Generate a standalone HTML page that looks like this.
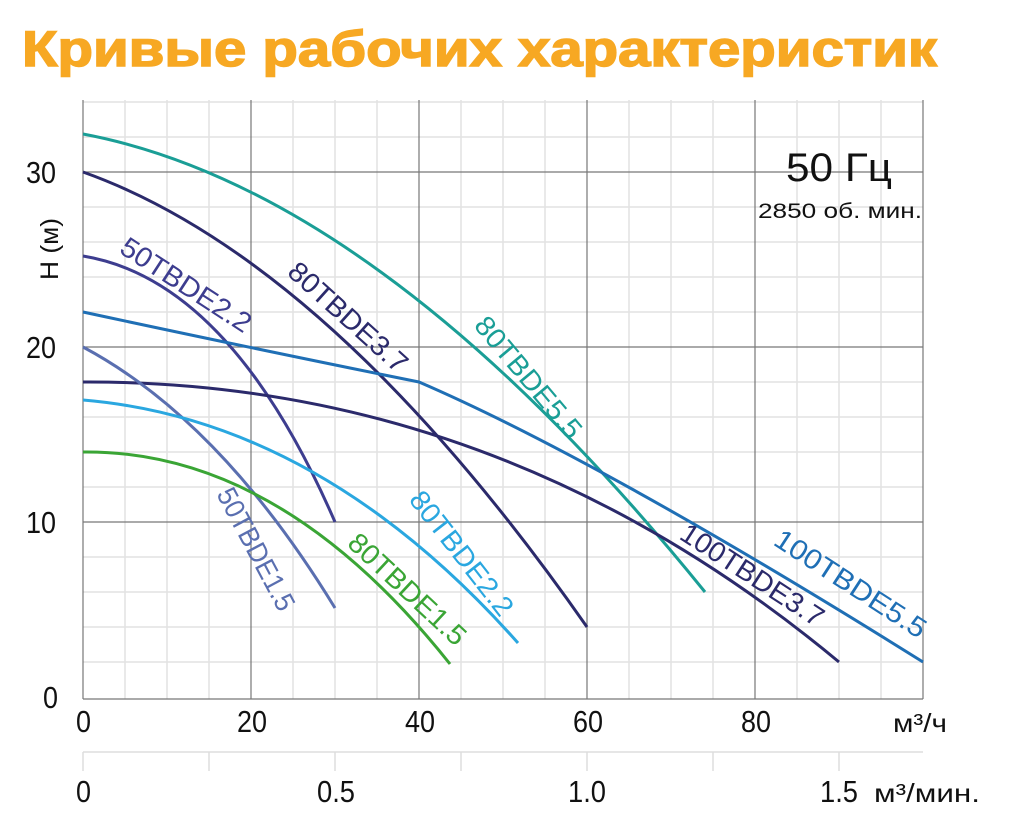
<!DOCTYPE html>
<html><head><meta charset="utf-8"><style>
html,body{margin:0;padding:0;background:#fff;width:1030px;height:830px;overflow:hidden}
svg{display:block}
.t{font-family:"Liberation Sans",sans-serif}
</style></head><body>
<svg width="1030" height="830" viewBox="0 0 1030 830" xmlns="http://www.w3.org/2000/svg">
<text x="22" y="66" font-family="Liberation Sans, sans-serif" font-weight="bold" font-size="50" fill="#f7a823" stroke="#f7a823" stroke-width="1.5" textLength="915" lengthAdjust="spacingAndGlyphs">Кривые рабочих характеристик</text>
<g stroke="#e2e2e2" stroke-width="1.5">
<path d="M125 100V699M167 100V699M209 100V699M293 100V699M335 100V699M377 100V699M461 100V699M503 100V699M545 100V699M629 100V699M671 100V699M713 100V699M797 100V699M839 100V699M881 100V699"/>
<path d="M83 102H923M83 137H923M83 207H923M83 242H923M83 277H923M83 312H923M83 382H923M83 417H923M83 452H923M83 487H923M83 557H923M83 592H923M83 627H923M83 662H923"/>
</g>
<g stroke="#777" stroke-width="1.2">
<path d="M83 100V699M251 100V699M419 100V699M587 100V699M755 100V699M923 100V699"/>
<path d="M83 172H923M83 347H923M83 522H923M83 699H923"/>
</g>
<g stroke="#ddd" stroke-width="1.5"><path d="M83 752H923M83 752V771M209 752V771M335 752V771M461 752V771M587 752V771M713 752V771M839 752V771"/></g>
<g fill="none" stroke-width="3">
<path d="M83 134Q380 190 705 592" stroke="#1a9e96"/>
<path d="M83 172Q330 260 587 627" stroke="#2b2a6b"/>
<path d="M83 256Q230 280 335 522" stroke="#3d3d8f"/>
<path d="M83 312Q260 350 419 382Q600 460 923 662" stroke="#1f6fb5"/>
<path d="M83 382Q500 380 839 662" stroke="#2b2a6b"/>
<path d="M83 347Q220 420 335 608" stroke="#5a6fb0"/>
<path d="M83 400Q320 420 518 643" stroke="#2aa7e0"/>
<path d="M83 452Q280 450 450 664" stroke="#3aa535"/>
</g>
<g class="t" font-size="28">
<text x="118" y="252" fill="#3d3d8f" transform="rotate(33 118 252)" textLength="150" lengthAdjust="spacingAndGlyphs">50TBDE2.2</text>
<text x="286" y="274" fill="#2b2a6b" transform="rotate(42 286 274)" textLength="150" lengthAdjust="spacingAndGlyphs">80TBDE3.7</text>
<text x="473" y="326" fill="#1a9e96" transform="rotate(50 473 326)" textLength="150" lengthAdjust="spacingAndGlyphs">80TBDE5.5</text>
<text x="216" y="494" fill="#5a6fb0" transform="rotate(62 216 494)" textLength="135" lengthAdjust="spacingAndGlyphs">50TBDE1.5</text>
<text x="408" y="500" fill="#2aa7e0" transform="rotate(52 408 500)" textLength="150" lengthAdjust="spacingAndGlyphs">80TBDE2.2</text>
<text x="346" y="545" fill="#3aa535" transform="rotate(43 346 545)" textLength="150" lengthAdjust="spacingAndGlyphs">80TBDE1.5</text>
<text x="678" y="538" fill="#2b2a6b" transform="rotate(33 678 538)" textLength="165" lengthAdjust="spacingAndGlyphs">100TBDE3.7</text>
<text x="772" y="544" fill="#1f6fb5" transform="rotate(33 772 544)" textLength="175" lengthAdjust="spacingAndGlyphs">100TBDE5.5</text>
</g>
<g class="t" font-size="31" fill="#111">
<text x="26" y="183" textLength="30" lengthAdjust="spacingAndGlyphs">30</text><text x="26" y="358" textLength="30" lengthAdjust="spacingAndGlyphs">20</text><text x="26" y="533" textLength="30" lengthAdjust="spacingAndGlyphs">10</text><text x="43" y="708" textLength="15" lengthAdjust="spacingAndGlyphs">0</text>
<text x="76" y="732" textLength="15" lengthAdjust="spacingAndGlyphs">0</text><text x="237" y="732" textLength="30" lengthAdjust="spacingAndGlyphs">20</text><text x="405" y="732" textLength="30" lengthAdjust="spacingAndGlyphs">40</text><text x="573" y="732" textLength="30" lengthAdjust="spacingAndGlyphs">60</text><text x="741" y="732" textLength="30" lengthAdjust="spacingAndGlyphs">80</text>
<text x="76" y="802" textLength="15" lengthAdjust="spacingAndGlyphs">0</text><text x="317" y="802" textLength="38" lengthAdjust="spacingAndGlyphs">0.5</text><text x="568" y="802" textLength="38" lengthAdjust="spacingAndGlyphs">1.0</text><text x="820" y="802" textLength="38" lengthAdjust="spacingAndGlyphs">1.5</text>
</g>
<text class="t" x="893" y="732" font-size="26" fill="#111" textLength="54" lengthAdjust="spacingAndGlyphs">м³/ч</text>
<text class="t" x="874" y="802" font-size="26" fill="#111" textLength="106" lengthAdjust="spacingAndGlyphs">м³/мин.</text>
<text class="t" x="58" y="280" font-size="25" fill="#111" transform="rotate(-90 58 280)" textLength="62" lengthAdjust="spacingAndGlyphs">H (м)</text>
<text x="786" y="181" font-family="Liberation Sans, sans-serif" font-size="40" fill="#111" textLength="106" lengthAdjust="spacingAndGlyphs">50 Гц</text>
<text x="758" y="218" font-family="Liberation Sans, sans-serif" font-size="21" fill="#111" textLength="164" lengthAdjust="spacingAndGlyphs">2850 об. мин.</text>
</svg>
</body></html>
